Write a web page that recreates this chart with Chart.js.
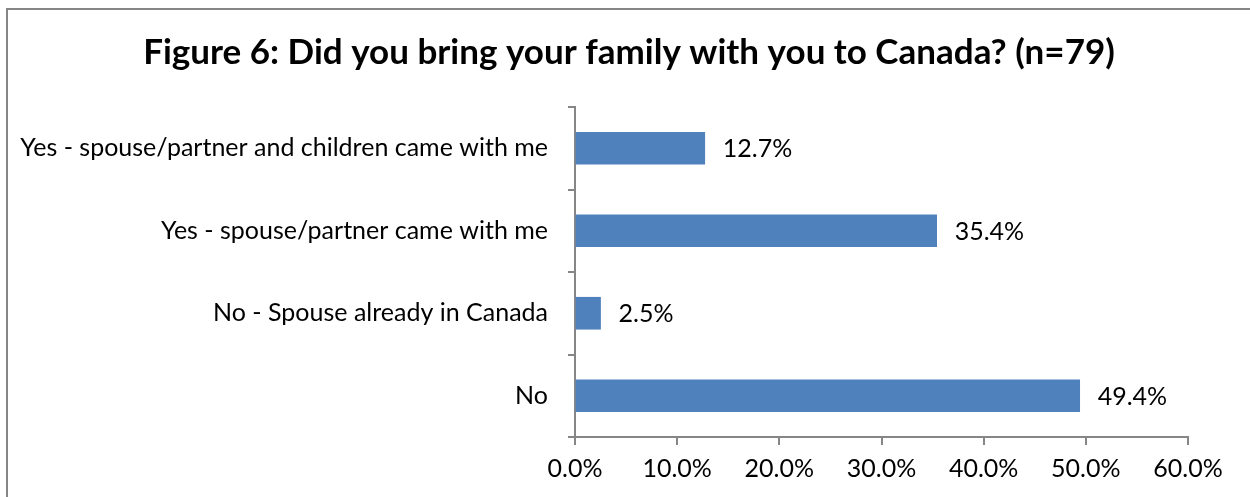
<!DOCTYPE html>
<html>
<head>
<meta charset="utf-8">
<script src="https://cdn.jsdelivr.net/npm/chart.js@4"></script>
<style>
  html, body { margin: 0; padding: 0; background: #fff; overflow: hidden; }
  #caja {
    position: absolute; left: 6px; top: 8px;
    width: 1250px; height: 495px;
    border-left: 2px solid #868686; border-top: 2px solid #868686;
  }
  #grafico { display: block; }
</style>
</head>
<body>
<div id="caja"><canvas id="grafico" width="1242" height="487"></canvas></div>
<script>
// Datos del gráfico
var categorias = [
  'Yes - spouse/partner and children came with me',
  'Yes - spouse/partner came with me',
  'No - Spouse already in Canada',
  'No'
];
var porcentajes = [12.7, 35.4, 2.5, 49.4];
var titulo = 'Figure 6: Did you bring your family with you to Canada? (n=79)';

var fuente = 'Lato';
var gris = '#868686';

// Plugin para escribir el valor al final de cada barra
var etiquetasValor = {
  id: 'etiquetasValor',
  afterDatasetsDraw: function (chart) {
    var ctx = chart.ctx;
    var meta = chart.getDatasetMeta(0);
    ctx.save();
    ctx.font = '25px ' + fuente;
    ctx.fillStyle = '#000';
    ctx.textBaseline = 'middle';
    ctx.textAlign = 'left';
    meta.data.forEach(function (barra, i) {
      ctx.fillText(porcentajes[i].toFixed(1) + '%', barra.x + 18, barra.y + 1);
    });
    ctx.restore();
  }
};

new Chart(document.getElementById('grafico').getContext('2d'), {
  type: 'bar',
  data: {
    labels: categorias,
    datasets: [{
      data: porcentajes,
      backgroundColor: '#4f81bd',
      borderWidth: 0,
      barThickness: 32
    }]
  },
  options: {
    indexAxis: 'y',
    responsive: false,
    animation: false,
    layout: { padding: 0 },
    plugins: {
      legend: { display: false },
      tooltip: { enabled: false },
      title: {
        display: true,
        text: titulo,
        color: '#000',
        font: { family: fuente, size: 35, weight: 'bold' },
        padding: { top: 22, bottom: 33 }
      }
    },
    scales: {
      x: {
        min: 0,
        max: 60,
        ticks: {
          stepSize: 10,
          color: '#000',
          font: { family: fuente, size: 25 },
          padding: 9,
          callback: function (v) { return v.toFixed(1) + '%'; }
        },
        grid: { drawOnChartArea: false, drawTicks: true, tickLength: 8, tickColor: gris, lineWidth: 2 },
        border: { color: gris, width: 2 },
        afterFit: function (escala) { escala.height = 60; }
      },
      y: {
        ticks: {
          color: '#000',
          font: { family: fuente, size: 25 },
          padding: 20
        },
        grid: { drawOnChartArea: false, drawTicks: true, tickLength: 7, tickColor: gris, lineWidth: 2, offset: true },
        border: { color: gris, width: 2 },
        afterFit: function (escala) { escala.width = 567; }
      },
      // eje vacío a la derecha para dejar margen sin descentrar el título
      derecha: {
        type: 'category',
        position: 'right',
        ticks: { display: false },
        grid: { display: false },
        border: { display: false },
        afterFit: function (escala) { escala.width = 62; }
      }
    }
  },
  plugins: [etiquetasValor]
});
</script>
</body>
</html>
